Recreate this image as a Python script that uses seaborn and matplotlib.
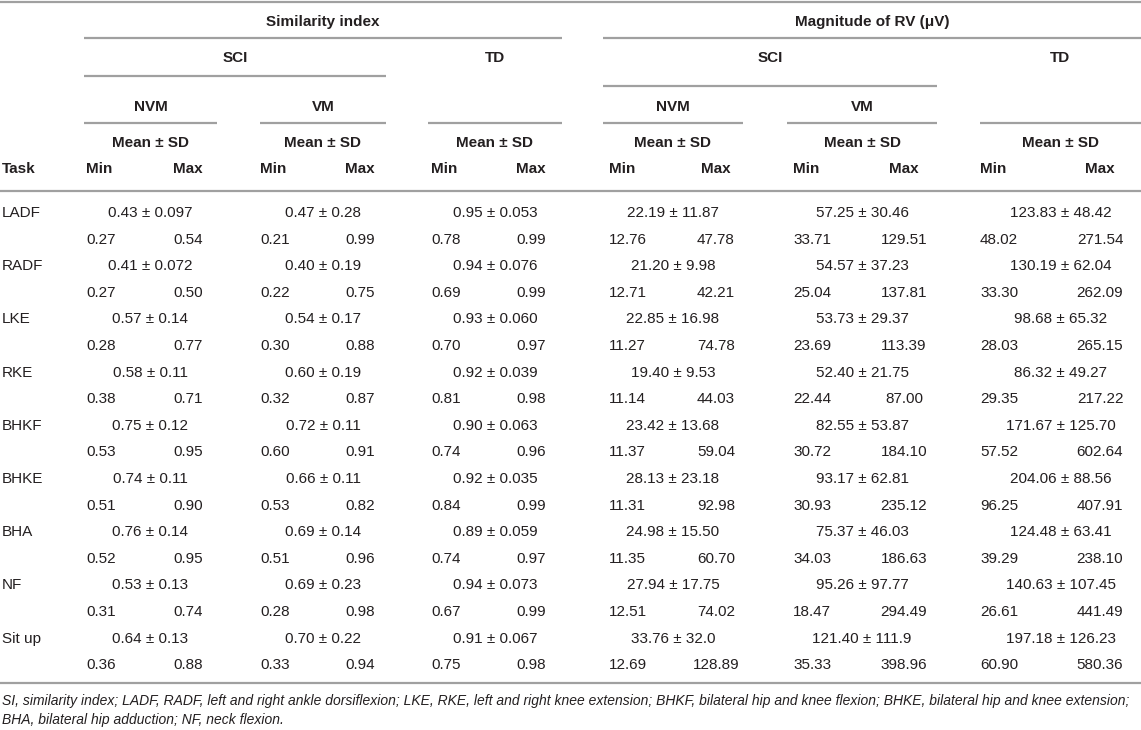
import matplotlib
matplotlib.use("Agg")
import matplotlib.pyplot as plt
import seaborn as sns

# ---- table values ----
tasks = ["LADF", "RADF", "LKE", "RKE", "BHKF", "BHKE", "BHA", "NF", "Sit up"]

si_nvm_mean = ["0.43", "0.41", "0.57", "0.58", "0.75", "0.74", "0.76", "0.53", "0.64"]
si_nvm_sd = ["0.097", "0.072", "0.14", "0.11", "0.12", "0.11", "0.14", "0.13", "0.13"]
si_nvm_min = ["0.27", "0.27", "0.28", "0.38", "0.53", "0.51", "0.52", "0.31", "0.36"]
si_nvm_max = ["0.54", "0.50", "0.77", "0.71", "0.95", "0.90", "0.95", "0.74", "0.88"]

si_vm_mean = ["0.47", "0.40", "0.54", "0.60", "0.72", "0.66", "0.69", "0.69", "0.70"]
si_vm_sd = ["0.28", "0.19", "0.17", "0.19", "0.11", "0.11", "0.14", "0.23", "0.22"]
si_vm_min = ["0.21", "0.22", "0.30", "0.32", "0.60", "0.53", "0.51", "0.28", "0.33"]
si_vm_max = ["0.99", "0.75", "0.88", "0.87", "0.91", "0.82", "0.96", "0.98", "0.94"]

si_td_mean = ["0.95", "0.94", "0.93", "0.92", "0.90", "0.92", "0.89", "0.94", "0.91"]
si_td_sd = ["0.053", "0.076", "0.060", "0.039", "0.063", "0.035", "0.059", "0.073", "0.067"]
si_td_min = ["0.78", "0.69", "0.70", "0.81", "0.74", "0.84", "0.74", "0.67", "0.75"]
si_td_max = ["0.99", "0.99", "0.97", "0.98", "0.96", "0.99", "0.97", "0.99", "0.98"]

rv_nvm_mean = ["22.19", "21.20", "22.85", "19.40", "23.42", "28.13", "24.98", "27.94", "33.76"]
rv_nvm_sd = ["11.87", "9.98", "16.98", "9.53", "13.68", "23.18", "15.50", "17.75", "32.0"]
rv_nvm_min = ["12.76", "12.71", "11.27", "11.14", "11.37", "11.31", "11.35", "12.51", "12.69"]
rv_nvm_max = ["47.78", "42.21", "74.78", "44.03", "59.04", "92.98", "60.70", "74.02", "128.89"]

rv_vm_mean = ["57.25", "54.57", "53.73", "52.40", "82.55", "93.17", "75.37", "95.26", "121.40"]
rv_vm_sd = ["30.46", "37.23", "29.37", "21.75", "53.87", "62.81", "46.03", "97.77", "111.9"]
rv_vm_min = ["33.71", "25.04", "23.69", "22.44", "30.72", "30.93", "34.03", "18.47", "35.33"]
rv_vm_max = ["129.51", "137.81", "113.39", "87.00", "184.10", "235.12", "186.63", "294.49", "398.96"]

rv_td_mean = ["123.83", "130.19", "98.68", "86.32", "171.67", "204.06", "124.48", "140.63", "197.18"]
rv_td_sd = ["48.42", "62.04", "65.32", "49.27", "125.70", "88.56", "63.41", "107.45", "126.23"]
rv_td_min = ["48.02", "33.30", "28.03", "29.35", "57.52", "96.25", "39.29", "26.61", "60.90"]
rv_td_max = ["271.54", "262.09", "265.15", "217.22", "602.64", "407.91", "238.10", "441.49", "580.36"]

footnote = [
    "SI, similarity index; LADF, RADF, left and right ankle dorsiflexion; LKE, RKE, left and right knee extension; "
    "BHKF, bilateral hip and knee flexion; BHKE, bilateral hip and knee extension;",
    "BHA, bilateral hip adduction; NF, neck flexion.",
]

groups = [
    (si_nvm_mean, si_nvm_sd, si_nvm_min, si_nvm_max),
    (si_vm_mean, si_vm_sd, si_vm_min, si_vm_max),
    (si_td_mean, si_td_sd, si_td_min, si_td_max),
    (rv_nvm_mean, rv_nvm_sd, rv_nvm_min, rv_nvm_max),
    (rv_vm_mean, rv_vm_sd, rv_vm_min, rv_vm_max),
    (rv_td_mean, rv_td_sd, rv_td_min, rv_td_max),
]

# ---- layout (pixel space of a 1141 x 730 canvas) ----
# each sub-column: (rule start, rule end, Min left edge, Max centre)
cols = [(84, 217, 86, 188), (260, 386, 260, 360), (428, 562, 431, 531),
        (603, 743, 609, 716), (787, 937, 793, 904), (980, 1141, 980, 1100)]
row0, row_step = 213, 26.6

TXT = "#231f20"
RULE = "#a0a0a0"

sns.set_theme(style="white")
plt.rcParams["font.family"] = ["Liberation Sans", "DejaVu Sans"]

fig = plt.figure(figsize=(11.41, 7.30), dpi=100)
ax = fig.add_axes([0, 0, 1, 1])
ax.set_xlim(0, 1141)
ax.set_ylim(730, 0)
ax.axis("off")

def rule(y, x0, x1):
    ax.hlines(y, x0, x1, color=RULE, lw=1.6)

def head(x, y, s, ha="center"):
    ax.text(x, y, s, ha=ha, va="center", fontsize=11, fontweight="bold", color=TXT)

def cell(x, y, s, ha="center"):
    ax.text(x, y, s, ha=ha, va="center", fontsize=11, color=TXT)

# header rules
rule(2, 0, 1141)
rule(38, cols[0][0], cols[2][1])
rule(38, cols[3][0], 1141)
rule(76, cols[0][0], cols[1][1])
rule(86, cols[3][0], cols[4][1])
for c in cols:
    rule(123, c[0], c[1])
rule(191, 0, 1141)
rule(683, 0, 1141)

# header text
head((cols[0][0] + cols[2][1]) / 2, 22, "Similarity index")
head((cols[3][0] + 1141) / 2, 22, "Magnitude of RV (\u03bcV)")
head((cols[0][0] + cols[1][1]) / 2, 58, "SCI")
head((cols[3][0] + cols[4][1]) / 2, 58, "SCI")
head((cols[2][0] + cols[2][1]) / 2, 58, "TD")
head((cols[5][0] + cols[5][1]) / 2, 58, "TD")
for i, name in zip([0, 1, 3, 4], ["NVM", "VM", "NVM", "VM"]):
    head((cols[i][0] + cols[i][1]) / 2, 107, name)
head(2, 169, "Task", ha="left")
for c in cols:
    head((c[0] + c[1]) / 2, 143, "Mean \u00b1 SD")
    head(c[2], 169, "Min", ha="left")
    head(c[3], 169, "Max")

# body: one mean row and one min/max row per task
for k, task in enumerate(tasks):
    y_mean = row0 + 2 * k * row_step
    y_rng = y_mean + row_step
    cell(2, y_mean, task, ha="left")
    for c, (mean, sd, lo, hi) in zip(cols, groups):
        cell((c[0] + c[1]) / 2, y_mean, f"{mean[k]} \u00b1 {sd[k]}")
        cell(c[2], y_rng, lo[k], ha="left")
        cell(c[3], y_rng, hi[k])

for j, line in enumerate(footnote):
    ax.text(2, 701 + 19 * j, line, ha="left", va="center", fontsize=10,
            style="italic", color=TXT)

fig.savefig("out.png", dpi=100)
plt.close(fig)
